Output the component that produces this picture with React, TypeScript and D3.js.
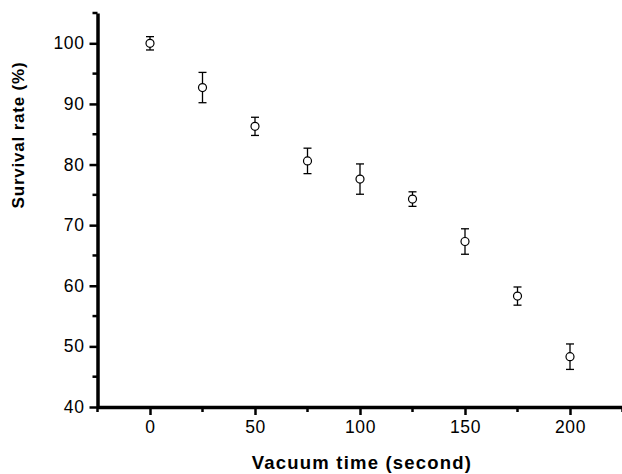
import { useEffect, useRef } from "react";
import * as d3 from "d3";

// vacuum time (s), survival rate (%), standard deviation
const times = [0, 25, 50, 75, 100, 125, 150, 175, 200];
const survival = [100, 92.7, 86.3, 80.6, 77.6, 74.3, 67.3, 58.3, 48.3];
const errors = [1.1, 2.5, 1.5, 2.1, 2.5, 1.2, 2.1, 1.5, 2.1];
const xTicks = [0, 50, 100, 150, 200];
const yTicks = [40, 50, 60, 70, 80, 90, 100];

function App() {
  const ref = useRef<SVGSVGElement>(null);

  useEffect(() => {
    const width = 622;
    const height = 474;
    const svg = d3.select(ref.current);
    svg.selectAll("*").remove();

    const x = d3.scaleLinear().domain([-25, 225]).range([97.5, 622.5]);
    const y = d3.scaleLinear().domain([40, 105]).range([407, 13]);
    const font = "'Liberation Sans', Arial, sans-serif";

    // minor ticks
    const g = svg.append("g");
    g.selectAll(".xminor")
      .data(d3.range(-25, 226, 50))
      .join("line")
      .attr("x1", (d) => x(d))
      .attr("x2", (d) => x(d))
      .attr("y1", y(40))
      .attr("y2", y(40) + 5)
      .attr("stroke", "#000")
      .attr("stroke-width", 2.5);
    g.selectAll(".yminor")
      .data(d3.range(45, 106, 10))
      .join("line")
      .attr("x1", x(-25) - 5)
      .attr("x2", x(-25))
      .attr("y1", (d) => y(d))
      .attr("y2", (d) => y(d))
      .attr("stroke", "#000")
      .attr("stroke-width", 2.5);

    const xAxis = svg
      .append("g")
      .attr("transform", `translate(0,${y(40)})`)
      .call(d3.axisBottom(x).tickValues(xTicks).tickSize(8).tickPadding(6).tickSizeOuter(0));
    const yAxis = svg
      .append("g")
      .attr("transform", `translate(${x(-25)},0)`)
      .call(d3.axisLeft(y).tickValues(yTicks).tickSize(8).tickPadding(5).tickSizeOuter(0));

    [xAxis, yAxis].forEach((a) => {
      a.select(".domain").attr("stroke", "#000").attr("stroke-width", 3.5);
      a.selectAll(".tick line").attr("stroke", "#000").attr("stroke-width", 2.5);
      a.selectAll(".tick text")
        .attr("fill", "#000")
        .style("font-family", font)
        .style("font-size", "17.5px")
        .style("letter-spacing", "0.6px");
    });

    // error bars
    const pts = times.map((t, i) => ({ t, v: survival[i], e: errors[i] }));
    const eb = svg.append("g").attr("stroke", "#000").attr("stroke-width", 1.3);
    eb.selectAll(".v")
      .data(pts)
      .join("line")
      .attr("x1", (d) => x(d.t))
      .attr("x2", (d) => x(d.t))
      .attr("y1", (d) => y(d.v + d.e))
      .attr("y2", (d) => y(d.v - d.e));
    [1, -1].forEach((s) => {
      eb.selectAll(`.cap${s}`)
        .data(pts)
        .join("line")
        .attr("x1", (d) => x(d.t) - 4)
        .attr("x2", (d) => x(d.t) + 4)
        .attr("y1", (d) => y(d.v + s * d.e))
        .attr("y2", (d) => y(d.v + s * d.e));
    });

    svg.append("g")
      .selectAll("circle")
      .data(pts)
      .join("circle")
      .attr("cx", (d) => x(d.t))
      .attr("cy", (d) => y(d.v))
      .attr("r", 4)
      .attr("fill", "#fff")
      .attr("stroke", "#000")
      .attr("stroke-width", 1.2);

    svg.append("text")
      .attr("x", 362)
      .attr("y", 469)
      .attr("text-anchor", "middle")
      .style("font-family", font)
      .style("font-weight", "bold")
      .style("font-size", "18.5px")
      .style("letter-spacing", "1.2px")
      .text("Vacuum time (second)");

    svg.append("text")
      .attr("transform", `translate(24,135) rotate(-90)`)
      .attr("text-anchor", "middle")
      .style("font-family", font)
      .style("font-weight", "bold")
      .style("font-size", "17px")
      .style("letter-spacing", "0.8px")
      .text("Survival rate (%)");

    svg.attr("width", width).attr("height", height);
  }, []);

  return (
    <svg
      ref={ref}
      width={622}
      height={474}
      style={{ position: "absolute", left: 0, top: 0, background: "#fff" }}
    />
  );
}

export default App;
